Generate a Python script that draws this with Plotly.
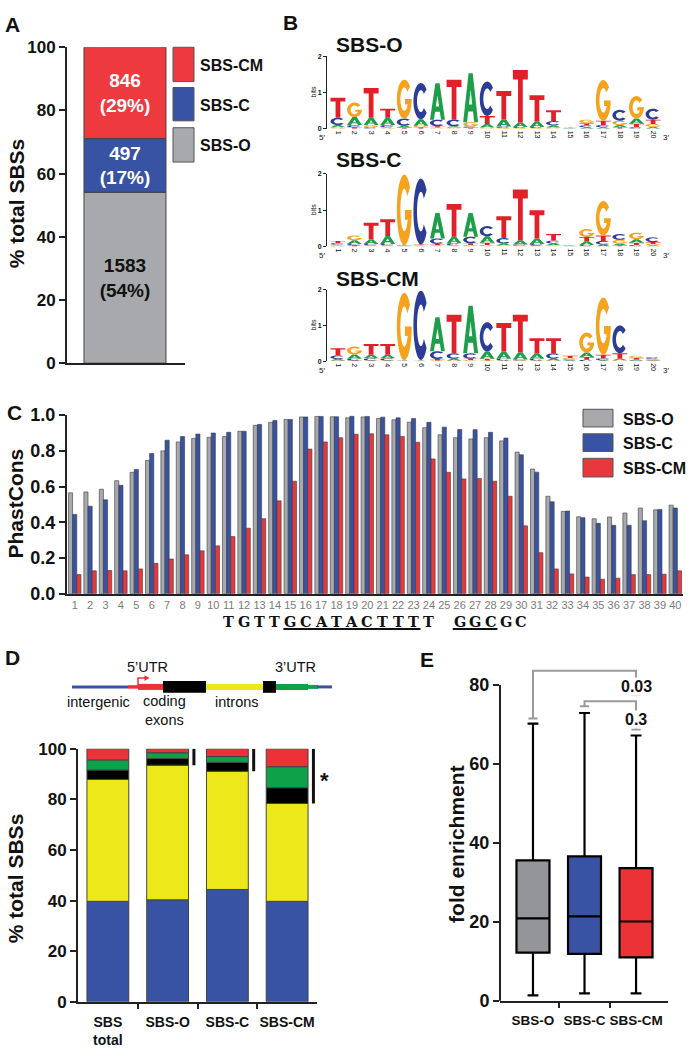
import numpy as np
import plotly.graph_objects as go

W, H = 688, 1055
def px(x): return x / W
def py(y): return 1 - y / H

FONT = "Liberation Sans, Arial, Helvetica, sans-serif"
INK = "#111111"

# ---------------- Panel A data ----------------
typeA_names = ["SBS-O", "SBS-C", "SBS-CM"]
typeA_counts = [1583, 497, 846]
typeA_colors = ["#a7a9ac", "#3953a4", "#ee3a3f"]
typeA_textcolors = ["#111111", "white", "white"]

# ---------------- Panel B data (sequence logos, bits; bottom -> top) ----------------
logo_titles = ["SBS-O", "SBS-C", "SBS-CM"]
logo_O = [
    [("G", .04), ("A", .06), ("C", .20), ("T", .55)],
    [("T", .04), ("C", .06), ("A", .22), ("G", .40)],
    [("C", .04), ("G", .06), ("A", .20), ("T", .82)],
    [("G", .04), ("C", .06), ("A", .20), ("T", .25)],
    [("T", .03), ("A", .05), ("C", .20), ("G", 1.07)],
    [("T", .04), ("G", .04), ("A", .18), ("C", 1.00)],
    [("G", .03), ("T", .04), ("C", .18), ("A", 1.00)],
    [("G", .03), ("A", .04), ("C", .18), ("T", 1.10)],
    [("T", .03), ("C", .03), ("G", .12), ("A", 1.35)],
    [("G", .03), ("A", .10), ("T", .22), ("C", .95)],
    [("G", .02), ("C", .04), ("A", .20), ("T", .78)],
    [("G", .02), ("C", .03), ("A", .12), ("T", 1.45)],
    [("G", .02), ("C", .03), ("A", .15), ("T", .72)],
    [("G", .03), ("A", .06), ("C", .12), ("T", .30)],
    [("A", .01), ("C", .01), ("G", .01), ("T", .01)],
    [("A", .04), ("C", .05), ("T", .06), ("G", .10)],
    [("A", .04), ("C", .06), ("T", .12), ("G", 1.12)],
    [("T", .04), ("A", .06), ("G", .12), ("C", .30)],
    [("C", .04), ("T", .10), ("A", .14), ("G", .62)],
    [("A", .05), ("G", .08), ("T", .12), ("C", .30)],
]
logo_C = [
    [("A", .02), ("G", .03), ("C", .04), ("T", .06)],
    [("T", .03), ("C", .04), ("A", .10), ("G", .13)],
    [("G", .03), ("C", .04), ("A", .12), ("T", .46)],
    [("G", .03), ("C", .04), ("A", .22), ("T", .46)],
    [("A", .01), ("C", .01), ("T", .01), ("G", 1.95)],
    [("A", .01), ("G", .02), ("T", .02), ("C", 1.82)],
    [("G", .03), ("T", .04), ("C", .15), ("A", .70)],
    [("G", .03), ("C", .06), ("A", .18), ("T", .90)],
    [("G", .04), ("T", .05), ("C", .18), ("A", .65)],
    [("G", .04), ("T", .06), ("A", .18), ("C", .28)],
    [("G", .03), ("A", .05), ("C", .15), ("T", .60)],
    [("G", .02), ("C", .03), ("A", .12), ("T", 1.40)],
    [("G", .02), ("C", .05), ("A", .15), ("T", .78)],
    [("G", .03), ("A", .05), ("C", .08), ("T", .18)],
    [("A", .01), ("C", .01), ("G", .01), ("T", .01)],
    [("C", .04), ("A", .10), ("T", .12), ("G", .22)],
    [("A", .05), ("C", .10), ("T", .15), ("G", .95)],
    [("T", .03), ("A", .05), ("G", .10), ("C", .16)],
    [("C", .04), ("T", .06), ("A", .10), ("G", .18)],
    [("A", .03), ("G", .04), ("T", .05), ("C", .13)],
]
logo_CM = [
    [("G", .02), ("A", .04), ("C", .10), ("T", .20)],
    [("T", .02), ("C", .05), ("A", .12), ("G", .22)],
    [("G", .02), ("C", .06), ("A", .10), ("T", .30)],
    [("G", .02), ("C", .06), ("A", .10), ("T", .30)],
    [("A", .01), ("C", .01), ("T", .01), ("G", 1.88)],
    [("A", .01), ("G", .01), ("T", .01), ("C", 1.94)],
    [("G", .02), ("T", .04), ("C", .22), ("A", .95)],
    [("G", .02), ("A", .05), ("C", .15), ("T", 1.08)],
    [("G", .03), ("T", .04), ("C", .15), ("A", 1.33)],
    [("G", .02), ("T", .05), ("A", .20), ("C", .82)],
    [("G", .02), ("C", .05), ("A", .20), ("T", .80)],
    [("G", .02), ("C", .03), ("A", .20), ("T", 1.05)],
    [("G", .02), ("C", .05), ("A", .15), ("T", .42)],
    [("G", .02), ("A", .05), ("C", .15), ("T", .42)],
    [("A", .02), ("C", .03), ("G", .04), ("T", .06)],
    [("C", .04), ("T", .08), ("A", .12), ("G", .56)],
    [("A", .03), ("C", .05), ("T", .10), ("G", 1.60)],
    [("G", .03), ("A", .04), ("T", .15), ("C", .78)],
    [("C", .02), ("A", .03), ("T", .04), ("G", .06)],
    [("T", .02), ("A", .02), ("G", .03), ("C", .04)],
]
logo_positions = list(range(1, 21))
base_colors = {"A": "#1f9e4a", "C": "#2c3d96", "G": "#f5a21c", "T": "#e3202a"}

# ---------------- Panel C data ----------------
positions = list(range(1, 41))
phast_O = [0.565, 0.57, 0.585, 0.633, 0.68, 0.746, 0.80, 0.85, 0.87, 0.876,
           0.88, 0.91, 0.943, 0.96, 0.976, 0.99, 0.993, 0.991, 0.985, 0.99,
           0.981, 0.974, 0.961, 0.93, 0.89, 0.874, 0.867, 0.874, 0.856, 0.793,
           0.698, 0.546, 0.461, 0.431, 0.42, 0.43, 0.452, 0.48, 0.47, 0.496]
phast_C = [0.444, 0.49, 0.526, 0.607, 0.696, 0.785, 0.86, 0.88, 0.894, 0.90,
           0.904, 0.91, 0.948, 0.97, 0.976, 0.99, 0.993, 0.991, 0.994, 0.993,
           0.989, 0.985, 0.981, 0.96, 0.933, 0.92, 0.919, 0.904, 0.872, 0.778,
           0.681, 0.515, 0.463, 0.426, 0.394, 0.383, 0.383, 0.409, 0.472, 0.48]
phast_CM = [0.107, 0.128, 0.13, 0.128, 0.139, 0.17, 0.194, 0.218, 0.24, 0.268,
            0.32, 0.367, 0.42, 0.52, 0.63, 0.81, 0.85, 0.874, 0.893, 0.896,
            0.89, 0.881, 0.848, 0.755, 0.68, 0.643, 0.646, 0.63, 0.546, 0.38,
            0.23, 0.139, 0.111, 0.093, 0.081, 0.087, 0.107, 0.107, 0.109, 0.128]
phast_names = ["SBS-O", "SBS-C", "SBS-CM"]
phast_colors = ["#a7a9ac", "#3953a4", "#e8383d"]
motif_seq = "TGTTGCATACTTTT GGCGC"
motif_start = 11
motif_underlines = [(15, 23), (26, 28)]

# ---------------- Panel D data ----------------
regionD_cats = ["SBS<br>total", "SBS-O", "SBS-C", "SBS-CM"]
regionD_names = ["intergenic", "introns", "coding exons", "3'UTR", "5'UTR"]
regionD_colors = ["#3953a4", "#ece81a", "#000000", "#0da24a", "#ed3237"]
intergenic = [39.7, 40.3, 44.4, 39.7]
introns = [48.2, 53.2, 46.7, 38.7]
coding = [3.7, 2.6, 3.5, 6.2]
utr3 = [4.0, 2.3, 2.3, 8.3]
utr5 = [4.4, 1.6, 3.1, 7.1]
sigD_index = [1, 2, 3]
starD_index = 3

# ---------------- Panel E data ----------------
boxE_cats = ["SBS-O", "SBS-C", "SBS-CM"]
boxE_colors = ["#939598", "#3953a4", "#ed3237"]
boxE_lo = [1.4, 1.9, 1.9]
boxE_q1 = [12.2, 11.9, 11.0]
boxE_med = [20.9, 21.4, 20.1]
boxE_q3 = [35.6, 36.6, 33.6]
boxE_hi = [70.2, 72.9, 67.2]
pvals = [(0, 2, "0.03"), (1, 2, "0.3")]

# ======================================================================
fig = go.Figure()
shapes, annots = [], []

def ann(text, x, y, size, bold=True, color=INK, xanchor="center", yanchor="middle",
        angle=0, xref="paper", yref="paper", family=FONT, bg=None):
    d = dict(text=text, x=x, y=y, xref=xref, yref=yref, showarrow=False,
             xanchor=xanchor, yanchor=yanchor, textangle=angle,
             font=dict(family=family, size=size, color=color,
                       weight="bold" if bold else "normal"))
    if bg:
        d["bgcolor"] = bg
    annots.append(d)

def tfont(size, bold=True, color=INK):
    return dict(family=FONT, size=size, color=color, weight="bold" if bold else "normal")

AX = dict(showgrid=False, zeroline=False, linecolor="#222", linewidth=2,
          tickcolor="#222", tickwidth=2, ticklen=6)

# ---------------- Panel A ----------------
total = sum(typeA_counts)
pcts = [c / total * 100 for c in typeA_counts]
cum = 0
for name, c, p, col, tc in zip(typeA_names, typeA_counts, pcts, typeA_colors, typeA_textcolors):
    fig.add_trace(go.Bar(x=[0], y=[p], base=[cum], width=1.0, offset=-0.5,
                         marker=dict(color=col, line=dict(color="#444", width=1)),
                         text=[f"{c}<br>({round(p)}%)"], textposition="inside",
                         insidetextanchor="middle", textangle=0, constraintext="none",
                         textfont=tfont(19, True, tc), name=name, showlegend=False,
                         xaxis="x", yaxis="y", hoverinfo="skip"))
    cum += p

legA_y = [(120, 155), (79, 113), (38, 73)]
for name, col, (y0, y1) in zip(typeA_names, typeA_colors, legA_y):
    shapes.append(dict(type="rect", xref="paper", yref="paper", x0=px(173), x1=px(194),
                       y0=py(y1), y1=py(y0), fillcolor=col, line=dict(color="#555", width=1)))
    ann(name, px(198), py((y0 + y1) / 2 + 1), 16, xanchor="left")
ann("% total SBSs", px(16), py(197), 21, angle=-90)
ann("A", px(3), py(15), 21, xanchor="left")

# ---------------- Panel B (logos) ----------------
def arc(cx, cy, rx, ry, a0, a1, n=28):
    t = np.radians(np.linspace(a0, a1, n))
    return list(zip(cx + rx * np.cos(t), cy + ry * np.sin(t)))

g_in = np.degrees(np.arcsin((0.36 - 0.5) / 0.30)) + 360
GLYPHS = {
    "T": [[(0, 1), (1, 1), (1, .82), (.66, .82), (.66, 0), (.34, 0), (.34, .82), (0, .82)]],
    "A": [[(0, 0), (.36, 1), (.64, 1), (1, 0), (.74, 0), (.66, .22), (.34, .22), (.26, 0)],
          [(.39, .36), (.61, .36), (.5, .667)]],
    "C": [arc(.5, .5, .5, .5, 40, 320) + arc(.5, .5, .26, .30, 320, 40)],
    "G": [arc(.5, .5, .5, .5, 40, 360) + [(1.0, .5), (.55, .5), (.55, .36)]
          + arc(.5, .5, .26, .30, g_in, 40)],
}

def glyph_path(letter, xc, y0, h, hw=0.45):
    out = ""
    for poly in GLYPHS[letter]:
        pts = [(xc - hw + u * 2 * hw, y0 + v * h) for u, v in poly]
        out += "M" + "L".join(f"{x:.4f},{y:.5f}" for x, y in pts) + "Z"
    return out

logo_sets = [logo_O, logo_C, logo_CM]
logo_zero = [121, 241, 358]
logo_two = [47, 167, 285]
logo_title_y = [35, 152, 274]
for k, (logo, z, t2) in enumerate(zip(logo_sets, logo_zero, logo_two)):
    xa, ya = f"x{k + 2}", f"y{k + 2}"
    fig.add_trace(go.Scatter(x=[logo_positions[0]], y=[0], mode="markers",
                             marker=dict(opacity=0), xaxis=xa, yaxis=ya,
                             showlegend=False, hoverinfo="skip"))
    for pos, stack in zip(logo_positions, logo):
        b = 0.0
        for letter, h in stack:
            if h > 0.004:
                shapes.append(dict(type="path", xref=xa, yref=ya,
                                   path=glyph_path(letter, pos, b, h),
                                   fillcolor=base_colors[letter], line=dict(width=0),
                                   layer="above"))
            b += h
    ann(logo_titles[k], px(334), py(logo_title_y[k]), 21, xanchor="left")
    ann("bits", px(313), py((z + t2) / 2), 7, bold=False, angle=-90)
    ann("5′", px(322), py(z + 9), 8, bold=False)
    ann("3′", px(666), py(z + 9), 8, bold=False)
ann("B", px(281), py(13), 21, xanchor="left")

# ---------------- Panel C ----------------
bw = 0.27
for vals, name, col, off in zip([phast_O, phast_C, phast_CM], phast_names, phast_colors,
                                [-1.5 * bw, -0.5 * bw, 0.5 * bw]):
    fig.add_trace(go.Bar(x=positions, y=vals, width=bw, offset=off, name=name,
                         marker=dict(color=col, line=dict(color="#3a3a3a", width=0.6)),
                         xaxis="x5", yaxis="y5", showlegend=False, hoverinfo="skip"))
legC_y = [(407, 425), (432, 450), (457, 476)]
for name, col, (y0, y1) in zip(phast_names, phast_colors, legC_y):
    shapes.append(dict(type="rect", xref="paper", yref="paper", x0=px(583), x1=px(613),
                       y0=py(y1), y1=py(y0), fillcolor=col, line=dict(color="#555", width=1)))
    ann(name, px(621), py((y0 + y1) / 2 + 1), 16, xanchor="left")
for i, ch in enumerate(motif_seq):
    if ch != " ":
        ann(ch, motif_start + i, py(623), 14.5, xref="x5", family="DejaVu Serif")
for a, b in motif_underlines:
    shapes.append(dict(type="line", xref="x5", yref="paper", x0=a - 0.45, x1=b + 0.45,
                       y0=py(631), y1=py(631), line=dict(color=INK, width=2)))
ann("PhastCons", px(15), py(503), 21, angle=-90)
ann("C", px(5), py(410), 21, xanchor="left")

# ---------------- Panel D ----------------
xD = list(range(len(regionD_cats)))
xD_dom = [78, 317]
def xD_paper(v): return px(xD_dom[0] + (v + 0.5) / len(xD) * (xD_dom[1] - xD_dom[0]))
yD_dom = [1011, 753]
def yD_paper(v): return py(yD_dom[0] + v / 100 * (yD_dom[1] - yD_dom[0]))

stackD = [intergenic, introns, coding, utr3, utr5]
baseD = [0.0] * len(xD)
for vals, name, col in zip(stackD, regionD_names, regionD_colors):
    fig.add_trace(go.Bar(x=xD, y=vals, base=list(baseD), width=0.7, offset=-0.35, name=name,
                         marker=dict(color=col, line=dict(color="#444", width=1)),
                         xaxis="x6", yaxis="y6", showlegend=False, hoverinfo="skip"))
    baseD = [b + v for b, v in zip(baseD, vals)]
for i in sigD_index:
    shapes.append(dict(type="line", xref="x6", yref="y6", x0=i + 0.44, x1=i + 0.44,
                       y0=100, y1=intergenic[i] + introns[i], line=dict(color="#111", width=3)))
ann("*", xD_paper(starD_index + 0.63), yD_paper(87.5), 22)

def hline(x0, x1, y, w, col):
    shapes.append(dict(type="line", xref="paper", yref="paper", x0=px(x0), x1=px(x1),
                       y0=py(y), y1=py(y), line=dict(color=col, width=w)))
hline(72, 128, 690, 3, regionD_colors[0])
hline(128, 139, 690, 3.5, regionD_colors[4])
hline(138, 164, 690, 6, regionD_colors[4])
hline(205, 264, 690, 6, regionD_colors[1])
hline(275, 308, 690, 6, regionD_colors[3])
hline(307, 318, 690, 4, regionD_colors[3])
hline(317, 332, 690, 3, regionD_colors[0])
for x0, x1 in [(163, 206), (263, 276)]:
    shapes.append(dict(type="rect", xref="paper", yref="paper", x0=px(x0), x1=px(x1),
                       y0=py(696), y1=py(684), fillcolor="#000", line=dict(width=0)))
shapes.append(dict(type="path", xref="paper", yref="paper",
                   path=f"M{px(138)},{py(689)} L{px(138)},{py(681)} L{px(145)},{py(681)}",
                   line=dict(color=regionD_colors[4], width=1.5)))
shapes.append(dict(type="path", xref="paper", yref="paper",
                   path=f"M{px(144.5)},{py(678)} L{px(149.5)},{py(681)} L{px(144.5)},{py(684)} Z",
                   fillcolor=regionD_colors[4], line=dict(width=0)))
ann("5’UTR", px(147), py(670), 14.5, bold=False)
ann("3’UTR", px(295), py(670), 14.5, bold=False)
ann("intergenic", px(98), py(705), 14.5, bold=False)
ann("coding<br>exons", px(164), py(714), 14.5, bold=False)
ann("introns", px(237), py(705), 14.5, bold=False)
ann("% total SBSs", px(15), py(885), 21, angle=-90)
ann("D", px(3), py(660), 21, xanchor="left")

# ---------------- Panel E ----------------
xE = list(range(len(boxE_cats)))
for i, col in enumerate(boxE_colors):
    fig.add_trace(go.Box(x=[xE[i]], q1=[boxE_q1[i]], median=[boxE_med[i]], q3=[boxE_q3[i]],
                         lowerfence=[boxE_lo[i]], upperfence=[boxE_hi[i]],
                         fillcolor=col, line=dict(color="#000", width=2.2), width=0.64,
                         whiskerwidth=0.33, boxpoints=False, name=boxE_cats[i],
                         xaxis="x7", yaxis="y7", showlegend=False, hoverinfo="skip"))
yE_max = 86
yE_dom = [py(1010), py(1010 - yE_max * 4.025)]
def yE(v): return yE_dom[0] + v / yE_max * (yE_dom[1] - yE_dom[0])
shapes.append(dict(type="line", xref="paper", yref="paper", x0=px(500), x1=px(500),
                   y0=yE(0), y1=yE(80), line=dict(color="#222", width=2)))
bracket_top = [83.6, 75.9]
bracket_left = [71.5, 74.6]
bracket_right = [77.6, 68.7]
label_y = [79.7, 71.2]
GR = "#9a9a9a"
for (i, j, p), top, le, re, ly in zip(pvals, bracket_top, bracket_left, bracket_right, label_y):
    shapes.append(dict(type="path", xref="x7", yref="y7",
                       path=f"M{i},{le} L{i},{top} L{j},{top} L{j},{re}",
                       line=dict(color=GR, width=2)))
    for xx, yy in [(i, le), (j, re)]:
        shapes.append(dict(type="line", xref="x7", yref="y7", x0=xx - 0.09, x1=xx + 0.09,
                           y0=yy, y1=yy, line=dict(color=GR, width=2)))
    annots.append(dict(text=p, x=j, y=ly, xref="x7", yref="y7", showarrow=False,
                       bgcolor="white", borderpad=0,
                       font=dict(family=FONT, size=16, color=INK, weight="bold")))
ann("fold enrichment", px(457), py(850), 21, angle=-90)
ann("E", px(418), py(662), 21, xanchor="left")

# ---------------- Layout ----------------
lay = dict(width=W, height=H, margin=dict(l=0, r=0, t=0, b=0),
           paper_bgcolor="white", plot_bgcolor="rgba(0,0,0,0)",
           font=dict(family=FONT, color=INK), barmode="group",
           shapes=shapes, annotations=annots, showlegend=False)

lay["xaxis"] = dict(AX, domain=[px(67), px(185)], range=[-0.707, 0.732], anchor="y",
                    showline=True, showticklabels=False, ticks="")
lay["yaxis"] = dict(AX, domain=[py(360), py(38)], range=[0, 100], anchor="x",
                    showline=True, ticks="outside", tickvals=[0, 20, 40, 60, 80, 100],
                    tickfont=tfont(17))
for k, (z, t2) in enumerate(zip(logo_zero, logo_two)):
    n = k + 2
    lay[f"xaxis{n}"] = dict(showgrid=False, zeroline=False, domain=[px(327), px(664)],
                            range=[0.34, 20.66], anchor=f"y{n}", showline=False, ticks="",
                            tickvals=logo_positions, tickangle=90, ticklabelstandoff=1,
                            tickfont=dict(family=FONT, size=7, color=INK))
    lay[f"yaxis{n}"] = dict(showgrid=False, zeroline=False, domain=[py(z), py(t2)],
                            range=[0, 2], anchor=f"x{n}", showline=True, linewidth=1,
                            linecolor="#222", ticks="outside", ticklen=3, tickwidth=1,
                            tickcolor="#222", tickvals=[0, 1, 2],
                            tickfont=dict(family=FONT, size=7, color=INK, weight="bold"))
lay["xaxis5"] = dict(AX, domain=[px(67), px(683)], range=[0.5, 40.5], anchor="y5",
                     showline=True, ticks="", tickvals=positions,
                     tickfont=tfont(11, False, "#7a7a7a"))
lay["yaxis5"] = dict(AX, domain=[py(595), py(413)], range=[0, 1.0], anchor="x5",
                     showline=True, ticks="outside", tickvals=[0, 0.2, 0.4, 0.6, 0.8, 1.0],
                     tickformat=".1f", tickfont=tfont(18))
lay["xaxis6"] = dict(AX, domain=[px(xD_dom[0]), px(xD_dom[1])], range=[-0.5, 3.5], anchor="y6",
                     showline=True, ticks="", tickvals=xD, ticktext=regionD_cats,
                     ticklabelstandoff=6, tickfont=tfont(14),
                     minor=dict(tickvals=[0.5, 1.5, 2.5], ticks="outside", ticklen=5,
                                tickwidth=2, tickcolor="#222"))
lay["yaxis6"] = dict(AX, domain=[py(yD_dom[0]), py(yD_dom[1])], range=[0, 100], anchor="x6",
                     showline=True, ticks="outside", tickvals=[0, 20, 40, 60, 80, 100],
                     tickfont=tfont(17))
lay["xaxis7"] = dict(AX, domain=[px(500), px(668)], range=[-0.64, 2.62], anchor="y7",
                     showline=True, ticks="", tickvals=xE, ticktext=boxE_cats,
                     ticklabelstandoff=6, tickfont=tfont(13.5),
                     minor=dict(tickvals=[0.5, 1.5], ticks="outside", ticklen=5,
                                tickwidth=2, tickcolor="#222"))
lay["yaxis7"] = dict(AX, domain=yE_dom, range=[0, yE_max], anchor="x7",
                     showline=False, ticks="outside", tickvals=[0, 20, 40, 60, 80],
                     tickfont=tfont(18))

fig.update_layout(**lay)
fig.write_html("out.html", config={"displayModeBar": False, "staticPlot": True},
               post_script="document.body.style.margin='0';document.body.style.overflow='hidden';")
